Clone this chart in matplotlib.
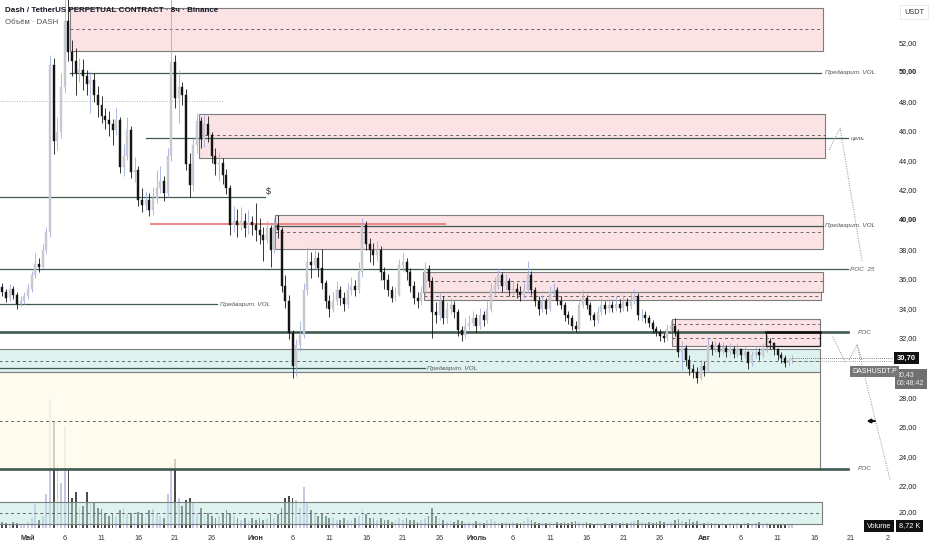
import matplotlib
matplotlib.use('Agg')
import matplotlib.pyplot as plt
import matplotlib.patches as mpatches
import matplotlib.transforms as mtransforms
import numpy as np

plt.rcParams['font.family'] = ['Liberation Sans', 'DejaVu Sans']

# ---------------- data ----------------
# 12h candles, first candle at day -3.5 (day 0 = 1 May)
start_day = -3.5
step_day = 0.5
first_open = 35.5

close = [35.2,34.8,35.4,35.0,34.4,34.6,34.9,35.4,36.3,37.1,36.9,38.0,39.2,
         50.5,45.4,46.0,49.0,53.5,51.4,50.8,50.0,50.2,49.8,49.2,49.5,
         48.5,47.8,47.1,46.8,46.5,46.1,46.8,43.6,44.4,46.1,43.3,43.4,41.4,41.05,41.4,40.7,41.5,42.2,42.7,41.9,
         44.4,50.7,48.3,49.0,48.5,43.8,42.4,45.1,46.7,45.5,46.5,45.8,44.4,43.8,43.9,43.1,42.2,
         39.7,40.0,39.7,40.0,39.5,39.9,39.7,39.4,39.0,38.7,39.5,38.0,39.7,39.4,
         35.6,34.6,32.4,30.2,31.6,32.3,35.3,37.2,37.0,37.5,36.8,35.8,34.6,34.0,34.6,35.3,34.8,34.4,35.3,35.6,35.3,36.5,
         39.7,38.4,38.0,37.7,38.0,36.5,36.0,35.3,34.8,35.0,37.0,37.2,36.5,35.6,34.8,34.6,35.2,36.7,35.9,
         33.8,33.6,34.6,33.4,34.0,34.3,33.8,32.6,32.3,32.9,33.1,33.4,32.9,33.6,33.3,34.0,35.3,35.6,36.3,35.6,35.9,35.3,35.4,35.2,35.0,35.3,
         36.3,35.3,34.6,34.0,34.6,34.0,35.2,35.3,34.6,34.3,33.6,33.4,32.9,32.7,34.3,34.8,34.3,33.6,33.3,33.8,34.3,34.0,34.3,34.1,34.4,34.1,34.5,34.2,34.6,34.9,
         33.6,33.65,33.4,33.1,32.7,32.5,32.2,32.1,32.7,32.9,32.5,31.1,31.4,30.6,30.0,29.8,29.4,30.2,29.9,
         31.6,31.3,31.6,31.1,31.4,31.1,31.3,31.0,31.3,30.9,31.1,30.4,30.9,31.1,30.9,31.3,31.9,31.7,31.3,30.9,30.7,30.4,30.6,30.7]

high = [35.8,35.4,35.7,35.6,35.2,34.9,35.2,35.7,36.6,37.8,37.5,38.4,39.6,
        51.2,51.0,47.0,50.0,55.6,55.2,52.2,51.7,51.0,50.9,50.2,50.1,
        50.0,49.1,48.4,47.6,47.4,46.9,47.7,47.0,45.2,47.0,46.4,44.3,43.7,42.2,42.0,41.9,42.3,43.4,43.7,43.0,
        44.9,55.2,51.2,50.2,49.4,48.9,44.6,45.6,47.3,47.0,47.3,47.1,46.0,44.9,44.6,44.2,43.5,
        42.4,41.0,40.8,40.9,40.5,40.7,40.3,41.2,40.2,39.6,40.0,39.7,40.2,40.4,
        39.6,36.3,35.0,32.6,32.0,33.2,35.8,38.2,37.9,38.2,37.9,38.1,36.0,35.0,35.2,35.9,35.6,35.2,35.8,36.2,36.0,37.2,
        40.2,40.0,38.8,38.5,38.6,38.3,36.9,36.4,35.6,35.5,37.4,37.8,37.5,36.8,35.9,35.2,35.6,37.2,37.0,
        36.2,34.5,35.1,34.9,34.5,34.8,34.6,34.0,32.9,33.4,33.6,33.9,33.7,34.1,33.9,34.6,35.8,36.2,36.8,36.5,36.4,36.1,35.9,35.8,35.6,35.9,
        37.3,36.6,35.5,34.9,35.0,34.8,35.6,35.8,35.5,34.9,34.5,33.9,33.6,33.2,34.6,35.3,35.0,34.5,33.8,34.2,34.8,34.6,34.8,34.6,34.9,34.7,35.0,34.8,35.1,35.4,
        35.1,34.0,33.9,33.6,33.3,32.9,32.7,32.4,33.0,33.3,33.4,32.7,31.9,31.6,30.9,30.3,30.1,30.6,30.5,
        32.1,31.9,31.9,31.8,31.8,31.6,31.7,31.5,31.7,31.4,31.5,31.2,31.2,31.5,31.4,31.7,32.3,32.1,31.8,31.4,31.1,30.9,30.8,30.9]

low = [34.9,34.5,34.6,34.7,34.0,34.2,34.4,34.7,35.2,36.1,36.5,36.8,37.8,
       38.9,44.5,44.8,45.6,48.6,50.8,49.8,48.5,49.4,48.8,48.5,47.3,
       48.0,47.0,46.6,46.2,45.7,45.1,45.8,43.2,43.0,44.1,42.9,42.6,41.0,40.6,40.7,40.3,40.4,41.2,41.9,41.3,
       41.6,44.0,47.6,46.6,47.8,43.4,41.6,42.0,44.6,44.9,45.0,45.3,43.9,43.1,42.7,42.5,41.8,
       39.0,39.2,38.9,39.4,38.9,39.1,39.0,38.6,38.4,37.3,38.5,36.9,37.8,38.8,
       35.2,34.1,32.0,29.4,29.5,31.2,32.1,35.0,36.1,36.7,36.2,35.4,34.1,33.5,33.8,34.3,34.3,33.9,34.1,35.0,34.9,35.1,
       36.2,38.0,37.2,37.0,37.3,36.0,35.4,34.9,34.5,34.6,34.9,36.6,36.0,35.2,34.4,34.1,34.3,35.0,35.5,
       32.1,33.1,33.3,33.0,33.1,33.7,33.4,32.2,31.9,32.1,32.6,32.9,32.5,32.7,32.9,33.1,33.8,35.0,35.4,35.2,35.3,34.9,35.0,34.8,34.6,34.8,
       35.1,35.0,34.2,33.6,33.8,33.7,33.9,34.9,34.3,34.0,33.2,33.0,32.6,32.5,32.6,34.1,34.0,33.3,32.9,33.1,33.6,33.7,33.8,33.8,33.9,33.8,33.9,33.9,34.0,34.4,
       33.3,33.2,33.1,32.8,32.4,32.2,31.9,31.8,31.9,32.5,32.2,30.8,29.9,30.2,29.6,29.4,29.0,29.2,29.5,
       29.8,30.9,31.1,30.8,31.0,30.8,30.9,30.7,30.8,30.6,30.7,30.0,30.2,30.7,30.6,30.7,31.1,31.3,30.9,30.6,30.4,30.1,30.2,30.4]

volume_k = [18,15,12,18,15,12,9,18,30,72,24,36,102,
            387,318,192,135,306,180,90,108,60,66,108,75,
            75,60,57,45,36,42,36,54,60,42,45,36,48,45,30,54,57,42,36,30,
            102,186,207,90,66,84,90,75,45,60,36,45,36,30,36,45,54,
            45,36,30,24,30,24,30,24,30,24,30,45,30,42,
            60,90,96,90,84,60,123,75,54,42,36,45,36,30,30,24,24,30,24,24,30,36,
            54,42,30,30,24,30,24,24,18,24,30,24,30,24,24,18,24,30,36,
            60,36,30,24,18,21,18,24,21,15,18,15,21,18,15,24,27,21,18,15,18,15,18,15,15,21,
            30,24,18,15,18,15,18,15,18,15,18,15,18,21,18,15,18,15,12,15,12,15,12,15,18,15,18,15,18,21,
            24,18,15,18,15,18,21,18,15,18,24,27,21,18,27,18,21,18,15,
            18,15,15,12,15,12,15,12,15,12,18,15,12,15,18,12,15,12,12,9,12,9,9,8.72]

date_ticks = [0, 5, 10, 15, 20, 25, 31, 36, 41, 46, 51, 56, 61, 66, 71, 76, 81, 86, 92, 97, 102, 107, 112, 117]
date_labels = ['Май', '6', '11', '16', '21', '26', 'Июн', '6', '11', '16', '21', '26',
               'Июль', '6', '11', '16', '21', '26', 'Авг', '6', '11', '16', '21', '2']
price_ticks = [52, 50, 48, 46, 44, 42, 40, 38, 36, 34, 32, 28, 26, 24, 22, 20]

last_price = 30.70
mark_price = 30.43

# drawings: (day_start, day_end, low, high, [dashed levels])
pink_boxes = [(5.7, 108.2, 51.46, 54.36, [52.95]),
              (23.3, 108.4, 44.23, 47.2, [45.78]),
              (33.6, 108.2, 38.1, 40.38, [39.25]),
              (53.7, 108.2, 35.18, 36.53, [35.92]),
              (53.9, 107.9, 34.64, 35.18, [34.9]),
              (87.6, 107.8, 31.53, 33.35, [33.01, 32.07])]
mint_boxes = [(-4.0, 107.8, 29.77, 31.32, [30.51]),
              (-4.0, 108.0, 19.5, 20.99, [20.24])]
cream_box = (-4.0, 107.8, 23.22, 29.77, [26.46])
black_box = (100.4, 107.8, 31.53, 32.47)

# levels: (day_start, day_end, price, label, label_day, width)
levels = [(5.7, 107.9, 50.0, 'Предварит. VOL', 108.5, 0.9),
          (16.05, 111.6, 45.58, 'цель', 111.9, 0.9),
          (-4.0, 32.2, 41.6, '$', 32.4, 0.9),
          (33.6, 108.2, 39.64, 'Предварит. VOL', 108.5, 0.9),
          (-4.0, 111.6, 36.73, 'POC  25', 111.9, 0.9),
          (-4.0, 25.7, 34.36, 'Предварит. VOL', 26.1, 0.9),
          (-4.0, 111.6, 32.47, 'POC', 112.9, 1.9),
          (-4.0, 54.0, 30.04, 'Предварит. VOL', 54.3, 0.9),
          (-4.0, 111.6, 23.22, 'POC', 112.9, 1.9)]
red_level = (16.7, 56.7, 39.77)
dotted_level = (-4.0, 26.5, 48.08)

path_a = ([109.0, 110.5, 113.5], [44.77, 46.26, 37.2])
path_b = ([109.5, 111.2], [32.14, 30.45])
path_c = ([111.7, 112.8, 113.5], [30.58, 31.6, 30.58])
path_d = ([112.8, 117.3], [31.6, 22.47])

# ---------------- figure ----------------
W, H = 932, 550
fig = plt.figure(figsize=(W / 100, H / 100), dpi=100)
fig.patch.set_facecolor('white')
rect = [0, 22 / H, 893 / W, 528 / H]
axv = fig.add_axes(rect)
ax = fig.add_axes(rect, facecolor='none')

XMIN, XMAX = -3.81, 117.69
YMIN, YMAX = 19.23, 54.91
for a in (ax, axv):
    a.set_xlim(XMIN, XMAX)
    for s in a.spines.values():
        s.set_visible(False)
ax.set_ylim(YMIN, YMAX)

n = min(len(close), len(high), len(low), len(volume_k))
c = np.array(close[:n], dtype=float)
h = np.array(high[:n], dtype=float)
l = np.array(low[:n], dtype=float)
v = np.array(volume_k[:n], dtype=float)
o = np.r_[first_open, c[:-1]]
t = start_day + step_day * np.arange(n)
up = c >= o
dn = ~up

# volume
axv.set_ylim(0, 1584)
axv.bar(t[up], v[up], width=0.24, color='#c3c9e2', linewidth=0, zorder=1)
axv.bar(t[dn], v[dn], width=0.24, color='#4b4b4b', linewidth=0, zorder=1)
axv.set_xticks([]); axv.set_yticks([])

def draw_box(b, fc, ec='#7d7d7d', alpha=1.0, lw=0.8):
    d0, d1, p0, p1, dashes = b
    ax.add_patch(mpatches.Rectangle((d0, p0), d1 - d0, p1 - p0, facecolor=fc, alpha=alpha,
                                    edgecolor='none', zorder=1))
    ax.add_patch(mpatches.Rectangle((d0, p0), d1 - d0, p1 - p0, facecolor='none',
                                    edgecolor=ec, lw=lw, zorder=2))
    for dl in dashes:
        ax.plot([d0, d1], [dl, dl], color='#666666', lw=0.7, ls=(0, (3, 3)), zorder=2)

draw_box(cream_box, '#fffbea', alpha=0.75)
for b in pink_boxes:
    draw_box(b, '#f9c9cc', alpha=0.5)
for b in mint_boxes:
    draw_box(b, '#bfe8e1', alpha=0.5)

d0, d1, p0, p1 = black_box
ax.add_patch(mpatches.Rectangle((d0, p0), d1 - d0, p1 - p0, facecolor='none',
                                edgecolor='#222222', lw=0.9, zorder=5))
ax.plot([d0, d1], [p1, p1], color='#111111', lw=1.8, zorder=5)

for d0, d1, p, lab, ld, lw in levels:
    ax.plot([d0, d1], [p, p], color='#3f5a50', lw=lw, zorder=2)
    if lab == '$':
        ax.text(ld, p + 0.05, lab, fontsize=6.5, color='#333333', va='bottom', ha='left', zorder=6)
    else:
        ax.text(ld, p, lab, fontsize=4.6, color='#555555', style='italic', va='center', ha='left', zorder=6)
ax.plot([red_level[0], red_level[1]], [red_level[2]] * 2, color='#f08585', lw=1.4, zorder=2)
ax.plot([dotted_level[0], dotted_level[1]], [dotted_level[2]] * 2, color='#9a9a9a', lw=0.6,
        ls=(0, (1, 2)), zorder=2)

# candles
ax.vlines(t[up], l[up], h[up], color='#9fb0de', lw=0.6, zorder=3)
ax.vlines(t[dn], l[dn], h[dn], color='#151515', lw=0.6, zorder=3)
ax.bar(t[up], np.abs(c - o)[up], bottom=np.minimum(o, c)[up], width=0.27,
       color='#c6c9d3', edgecolor='#c6c9d3', lw=0.3, zorder=4)
ax.bar(t[dn], np.abs(c - o)[dn], bottom=np.minimum(o, c)[dn], width=0.27,
       color='#151515', edgecolor='#151515', lw=0.3, zorder=4)

# price lines
ax.plot([t[-1], XMAX], [last_price] * 2, color='#555555', lw=0.6, ls=(0, (1, 1.5)), zorder=5)
ax.plot([t[-1], XMAX], [mark_price + 0.1] * 2, color='#888888', lw=0.6, ls=(0, (1, 1.5)), zorder=5)

# dotted projections
for px, py in (path_a, path_b, path_c, path_d):
    ax.plot(px, py, color='#8a8a8a', lw=0.7, ls=(0, (1, 1.5)), zorder=5)
ax.annotate('', xy=(113.7, 26.46), xytext=(115.6, 26.46),
            arrowprops=dict(arrowstyle='-|>', color='#111111', lw=1.5, mutation_scale=5), zorder=6)

# x ticks
ax.set_xticks(date_ticks)
ax.set_xticklabels(date_labels)
ax.tick_params(axis='x', length=0, pad=5, labelsize=5.2, colors='#333333')
for lbl in ax.get_xticklabels():
    if lbl.get_text() in ('Май', 'Июн', 'Июль', 'Авг'):
        lbl.set_fontweight('bold')
ax.set_yticks([])

# right price labels
tr = mtransforms.blended_transform_factory(fig.transFigure, ax.transData)
for p in price_ticks:
    yp = p + 0.25 if p == 20 else p
    ax.text(899 / W, yp, f'{p:.2f}'.replace('.', ','), transform=tr, fontsize=5.3,
            color='#222222', va='center', ha='left',
            fontweight='bold' if p in (50, 40) else 'normal', zorder=7, clip_on=False)
fig.text(904 / W, 1 - 12 / H, 'USDT', fontsize=5.3, color='#333333', va='center', ha='left',
         bbox=dict(boxstyle='square,pad=0.5', fc='white', ec='#e6e6e6', lw=0.6))

ax.text(897 / W, last_price, '30,70', transform=tr, fontsize=5.5, color='white', va='center',
        ha='left', fontweight='bold', zorder=8, clip_on=False,
        bbox=dict(boxstyle='square,pad=0.35', fc='#111111', ec='none'))
ax.text(897 / W, 29.3, '30,43\n06:48:42', transform=tr, fontsize=5.0, color='#eeeeee', va='center',
        ha='left', linespacing=1.3, zorder=8, clip_on=False,
        bbox=dict(boxstyle='square,pad=0.35', fc='#707070', ec='none'))
ax.text(852 / W, 29.8, 'DASHUSDT.P', transform=tr, fontsize=5.0, color='white', va='center',
        ha='left', zorder=8, clip_on=False,
        bbox=dict(boxstyle='square,pad=0.3', fc='#777777', ec='none'))
fig.text(867 / W, 1 - 526 / H, 'Volume', fontsize=5.3, color='white', va='center', ha='left',
         bbox=dict(boxstyle='square,pad=0.35', fc='#111111', ec='none'))
fig.text(899 / W, 1 - 526 / H, '8,72 K', fontsize=5.3, color='white', va='center', ha='left',
         bbox=dict(boxstyle='square,pad=0.35', fc='#111111', ec='none'))

# title
fig.text(5 / W, 1 - 10 / H, 'Dash / TetherUS PERPETUAL CONTRACT · 8ч · Binance', fontsize=5.8,
         color='#131722', fontweight='bold', va='center', ha='left')
fig.text(5 / W, 1 - 23 / H, 'Объём · DASH', fontsize=5.6, color='#555555', va='center', ha='left')

fig.savefig('out.png', dpi=100, facecolor='white')
